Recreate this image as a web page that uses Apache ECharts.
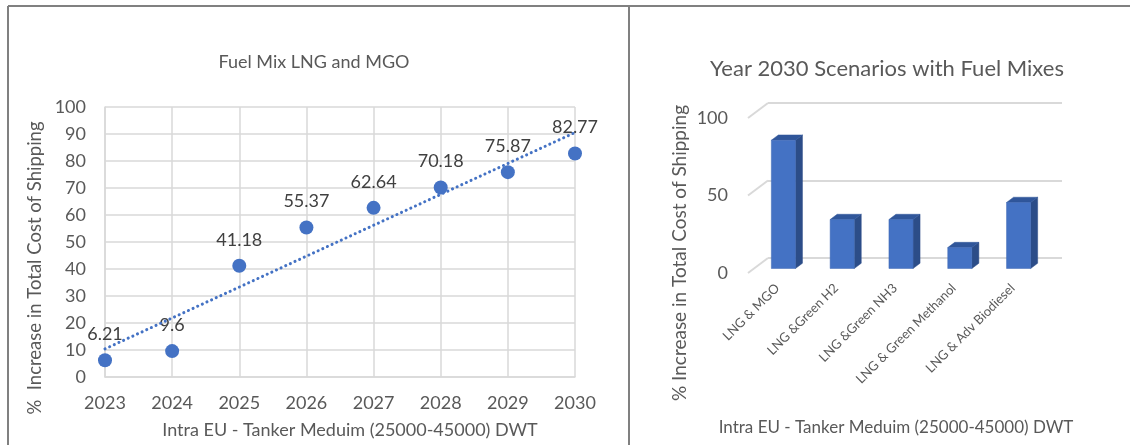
<!DOCTYPE html>
<html>
<head>
<meta charset="utf-8">
<script src="https://cdn.jsdelivr.net/npm/echarts@6/dist/echarts.min.js"></script>
<style>
  html, body { margin: 0; padding: 0; background: #fff; }
  #chart { width: 1130px; height: 445px; }
</style>
</head>
<body>
<div id="chart"></div>
<script>
// Left panel: yearly cost increase for the LNG + MGO fuel mix
const years = ['2023', '2024', '2025', '2026', '2027', '2028', '2029', '2030'];
const costIncrease = [6.21, 9.6, 41.18, 55.37, 62.64, 70.18, 75.87, 82.77];
const leftTicks = { min: 0, max: 100, interval: 10 };

// Right panel: 2030 scenarios by fuel mix
const scenarios = ['LNG & MGO', 'LNG &Green H2', 'LNG &Green NH3', 'LNG & Green Methanol', 'LNG & Adv Biodiesel'];
const scenarioValues = [82.77, 31.6, 31.6, 13.5, 42.6];
const rightTicks = [0, 50, 100];

const titles = {
  left: 'Fuel Mix LNG and MGO',
  right: 'Year 2030 Scenarios with Fuel Mixes',
  yName: '%  Increase in Total Cost of Shipping',
  yNameRight: '% Increase in Total Cost of Shipping',
  xName: 'Intra EU - Tanker Meduim (25000-45000) DWT'
};

// Least-squares linear trend over the yearly values
function linearTrend(vals) {
  const n = vals.length;
  const mx = (n - 1) / 2;
  const my = vals.reduce((a, b) => a + b, 0) / n;
  let sxy = 0, sxx = 0;
  vals.forEach((v, i) => { sxy += (i - mx) * (v - my); sxx += (i - mx) * (i - mx); });
  const slope = sxy / sxx;
  return vals.map((_, i) => my + slope * (i - mx));
}
const trend = linearTrend(costIncrease);

const FONT = 'Lato';
const TXT = '#595959';
const GRID = '#D9D9D9';
const BLUE = '#4472C4';

// 3D look: vector from back wall to the front edge of the floor
const DEPTH = [-20, 15];
const BAR_FRONT = 0.7, BAR_BACK = 0.35, BAR_W = 0.41;

const chart = echarts.init(document.getElementById('chart'));

chart.setOption({
  animation: false,
  backgroundColor: '#ffffff',
  textStyle: { fontFamily: FONT },
  title: [
    { text: titles.left, left: 309, top: 48, textAlign: 'center',
      textStyle: { fontFamily: FONT, fontSize: 18, fontWeight: 'normal', color: TXT } },
    { text: titles.right, left: 882, top: 53, textAlign: 'center',
      textStyle: { fontFamily: FONT, fontSize: 22, fontWeight: 'normal', color: TXT } }
  ],
  grid: [
    { left: 105, top: 107, width: 470, height: 270 },
    { left: 768, top: 103, width: 294, height: 155 },
    { left: 768 + DEPTH[0], top: 103 + DEPTH[1], width: 294, height: 155 }
  ],
  xAxis: [
    { gridIndex: 0, type: 'category', data: years, boundaryGap: false,
      axisLine: { lineStyle: { color: GRID, width: 1.5 } }, axisTick: { show: false },
      axisLabel: { color: TXT, fontSize: 18, fontFamily: FONT, margin: 17 },
      splitLine: { show: true, lineStyle: { color: GRID, width: 1.5 } },
      name: titles.xName, nameLocation: 'middle', nameGap: 44,
      nameTextStyle: { color: TXT, fontSize: 18, fontFamily: FONT, padding: [0, 0, 0, 20] } },
    { gridIndex: 1, type: 'category', data: scenarios,
      axisLine: { show: false }, axisTick: { show: false }, axisLabel: { show: false },
      splitLine: { show: false } },
    { gridIndex: 2, type: 'category', data: scenarios,
      axisLine: { show: false }, axisTick: { show: false },
      axisLabel: { rotate: 45, color: TXT, fontSize: 13, fontFamily: FONT, margin: 13, interval: 0 },
      splitLine: { show: false } }
  ],
  yAxis: [
    { gridIndex: 0, type: 'value', min: leftTicks.min, max: leftTicks.max, interval: leftTicks.interval,
      axisLine: { show: true, lineStyle: { color: GRID, width: 1.5 } }, axisTick: { show: false },
      axisLabel: { color: TXT, fontSize: 18, fontFamily: FONT, margin: 19 },
      splitLine: { lineStyle: { color: GRID, width: 1.5 } } },
    { gridIndex: 1, type: 'value', min: rightTicks[0], max: rightTicks[rightTicks.length - 1],
      interval: rightTicks[1] - rightTicks[0],
      axisLine: { show: false }, axisTick: { show: false }, axisLabel: { show: false },
      splitLine: { lineStyle: { color: GRID, width: 2 } } },
    { gridIndex: 2, type: 'value', min: rightTicks[0], max: rightTicks[rightTicks.length - 1],
      interval: rightTicks[1] - rightTicks[0],
      axisLine: { show: false }, axisTick: { show: false },
      axisLabel: { color: TXT, fontSize: 18, fontFamily: FONT, margin: 20 },
      splitLine: { show: false } }
  ],
  series: [
    {
      type: 'scatter', xAxisIndex: 0, yAxisIndex: 0, data: costIncrease,
      symbolSize: 14, itemStyle: { color: BLUE, opacity: 1 },
      label: { show: true, position: 'top', distance: 10, color: '#404040', fontSize: 18, fontFamily: FONT },
      z: 3
    },
    {
      type: 'line', xAxisIndex: 0, yAxisIndex: 0, data: trend, symbol: 'none',
      lineStyle: { color: BLUE, width: 3, type: [0.1, 5], cap: 'round' },
      z: 4, silent: true
    },
    {
      // perspective stubs joining each back-wall gridline to the axis edge
      type: 'custom', xAxisIndex: 1, yAxisIndex: 1,
      data: rightTicks.map(v => [0, v]),
      renderItem: function (params, api) {
        const cs = params.coordSys;
        const y = api.coord([0, api.value(1)])[1];
        return {
          type: 'line',
          shape: { x1: cs.x, y1: y, x2: cs.x + DEPTH[0], y2: y + DEPTH[1] },
          style: { stroke: GRID, lineWidth: 2 }
        };
      },
      silent: true
    },
    {
      // 3D columns: front face, top face and right side face
      type: 'custom', xAxisIndex: 1, yAxisIndex: 1,
      data: scenarioValues.map((v, i) => [i, v]),
      renderItem: function (params, api) {
        const i = api.value(0), v = api.value(1);
        const bottom = api.coord([i, 0]);
        const top = api.coord([i, v]);
        const band = api.size([1, 0])[0];
        const hw = band * BAR_W / 2;
        const fdx = DEPTH[0] * BAR_FRONT, fdy = DEPTH[1] * BAR_FRONT;
        const bdx = DEPTH[0] * BAR_BACK, bdy = DEPTH[1] * BAR_BACK;
        const cx = bottom[0];
        const fl = cx - hw + fdx, fr = cx + hw + fdx;
        const ft = top[1] + fdy, fb = bottom[1] + fdy;
        const bl = cx - hw + bdx, br = cx + hw + bdx;
        const bt = top[1] + bdy, bb = bottom[1] + bdy;
        return {
          type: 'group',
          children: [
            { type: 'polygon', shape: { points: [[fr, ft], [br, bt], [br, bb], [fr, fb]] },
              style: { fill: '#2C4D88', stroke: '#2C4D88', lineWidth: 0.5 } },
            { type: 'polygon', shape: { points: [[fl, ft], [bl, bt], [br, bt], [fr, ft]] },
              style: { fill: '#30569A', stroke: '#30569A', lineWidth: 0.5 } },
            { type: 'rect', shape: { x: fl, y: ft, width: fr - fl, height: fb - ft },
              style: { fill: BLUE, stroke: '#3F69B5', lineWidth: 0.5 } }
          ]
        };
      }
    }
  ],
  graphic: [
    { type: 'line', shape: { x1: 8, y1: 6, x2: 1130, y2: 6 }, style: { stroke: '#808080', lineWidth: 2 } },
    { type: 'line', shape: { x1: 8, y1: 6, x2: 8, y2: 445 }, style: { stroke: '#808080', lineWidth: 2 } },
    { type: 'line', shape: { x1: 629, y1: 6, x2: 629, y2: 445 }, style: { stroke: '#808080', lineWidth: 2 } },
    { type: 'text', x: 35, y: 268, rotation: Math.PI / 2,
      style: { text: titles.yName, fill: TXT, font: '18.5px Lato', align: 'center', verticalAlign: 'middle' } },
    { type: 'text', x: 680, y: 253, rotation: Math.PI / 2,
      style: { text: titles.yNameRight, fill: TXT, font: '19px Lato', align: 'center', verticalAlign: 'middle' } },
    { type: 'text', x: 896, y: 428,
      style: { text: titles.xName, fill: TXT, font: '17px Lato', align: 'center', verticalAlign: 'middle' } }
  ]
});
</script>
</body>
</html>
